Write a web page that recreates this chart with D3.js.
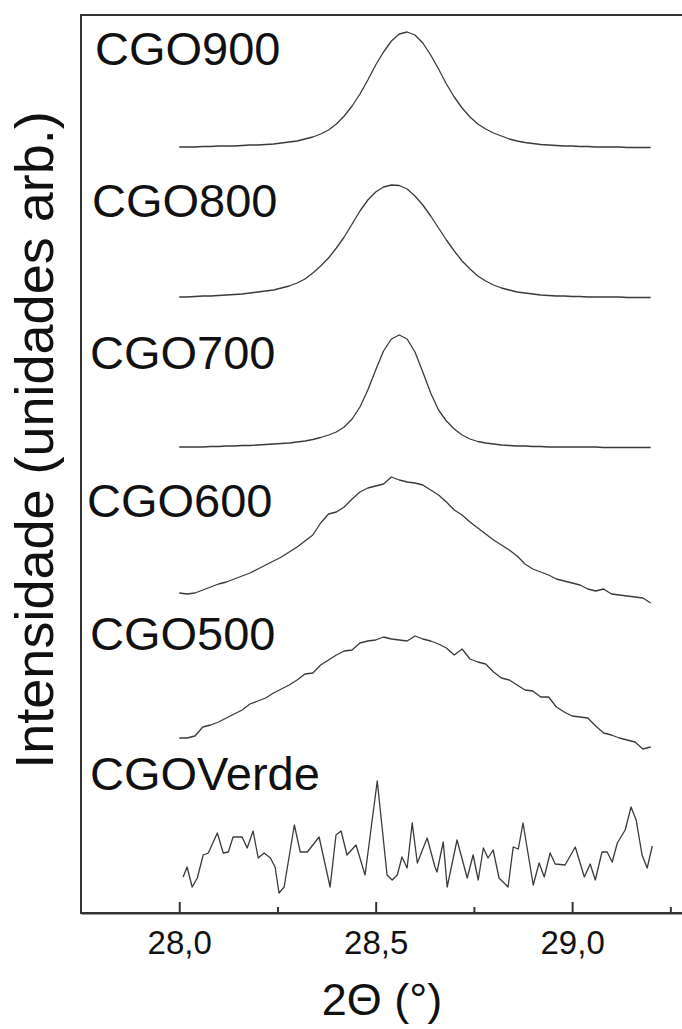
<!DOCTYPE html>
<html>
<head>
<meta charset="utf-8">
<script src="https://cdnjs.cloudflare.com/ajax/libs/d3/7.8.5/d3.min.js"></script>
<style>
body { margin: 0; background: #fff; }
text { font-family: "Liberation Sans", Arial, sans-serif; fill: #111; }
</style>
</head>
<body>
<script>
/*Scan angles (2 theta) for the smoother patterns*/
var angles = [28.00, 28.02, 28.04, 28.06, 28.08, 28.10, 28.12, 28.14, 28.16, 28.18,
	28.20, 28.22, 28.24, 28.26, 28.28, 28.30, 28.32, 28.34, 28.36, 28.38,
	28.40, 28.42, 28.44, 28.46, 28.48, 28.50, 28.52, 28.54, 28.56, 28.58,
	28.60, 28.62, 28.64, 28.66, 28.68, 28.70, 28.72, 28.74, 28.76, 28.78,
	28.80, 28.82, 28.84, 28.86, 28.88, 28.90, 28.92, 28.94, 28.96, 28.98,
	29.00, 29.02, 29.04, 29.06, 29.08, 29.10, 29.12, 29.14, 29.16, 29.18, 29.20]

/*Intensities (arb. units, already stacked)*/
var cgo900 = [766, 766, 766, 766.5, 766.5, 767, 767, 767, 767.5, 768,
	768, 768.5, 769, 770, 771, 772, 774, 776, 779, 783,
	789, 797, 807, 819, 833, 848, 861, 872, 879, 881,
	878, 870, 858, 844, 829, 816, 805, 796, 789, 784,
	780, 777, 774, 772, 770.5, 769.5, 768.5, 768, 767.5, 767,
	767, 766.5, 766.5, 766, 766, 766, 766, 765.5, 765.5, 765.5, 765.5]

var cgo800 = [616, 616, 616.5, 617, 617, 617.5, 618, 618.5, 619, 620,
	621, 622, 623, 625, 627, 630, 634, 640, 647, 655,
	665, 676, 689, 702, 713, 721, 726, 728, 727.5, 724,
	717, 708, 697, 685, 673, 662, 652, 644, 637, 632,
	628, 625, 623, 621, 620, 619, 618, 617.5, 617, 617,
	616.5, 616.5, 616, 616, 616, 616, 616, 615.5, 615.5, 615.5, 615.5]

var cgo700 = [466, 466, 466, 466, 466.5, 466.5, 467, 467, 467.5, 467.5,
	468, 468.5, 469, 469.5, 470, 471, 472, 473.5, 475.5, 478,
	481, 486, 494, 506, 523, 543, 562, 574, 578, 574,
	561, 541, 520, 503, 492, 484, 478, 474, 471.5, 470,
	469, 468, 467.5, 467, 467, 466.5, 466.5, 466, 466, 466,
	466, 466, 466, 466, 465.5, 465.5, 465.5, 465.5, 465.5, 465.5, 465.5]

var cgo600 = [320, 319, 320, 323, 326, 329, 331, 334, 337, 340,
	344, 348, 352, 356, 361, 366, 372, 378, 390, 399,
	401, 406, 414, 421, 425, 427, 429, 436, 433, 431,
	430, 428, 423, 418, 411, 403, 398, 391, 385, 379,
	373, 368, 363, 357, 349, 344, 341, 338, 334, 332,
	330, 328, 324, 322, 324, 319, 318, 317, 316, 315, 310]

var cgo500 = [175, 175, 177, 186, 188, 191, 195, 199, 203, 209,
	212, 215, 220, 224, 228, 233, 239, 240, 248, 253,
	258, 262, 263, 270, 272, 273, 276, 274, 273, 272,
	277, 274, 272, 269, 265, 258, 264, 254, 251, 249,
	241, 235, 233, 228, 223, 222, 216, 216, 206, 201,
	197, 196, 195, 187, 180, 178, 175, 173, 171, 164, 166]

/*The green (uncalcined) sample is noisy, read point by point*/
var verdeAngles = [28.010, 28.020, 28.033, 28.046, 28.061, 28.074, 28.097, 28.112, 28.125, 28.137,
	28.160, 28.173, 28.188, 28.201, 28.216, 28.232, 28.244, 28.254, 28.267, 28.293,
	28.308, 28.326, 28.356, 28.384, 28.399, 28.412, 28.427, 28.450, 28.473, 28.504,
	28.529, 28.542, 28.555, 28.567, 28.580, 28.593, 28.606, 28.631, 28.651, 28.656,
	28.672, 28.682, 28.707, 28.733, 28.748, 28.761, 28.774, 28.786, 28.799, 28.814,
	28.837, 28.850, 28.863, 28.875, 28.901, 28.916, 28.929, 28.944, 28.957, 28.982,
	29.008, 29.031, 29.046, 29.059, 29.076, 29.089, 29.102, 29.115, 29.135, 29.150,
	29.163, 29.178, 29.191, 29.204]

var cgoVerde = [36, 46, 26, 35, 58, 60, 80, 60, 61, 76,
	76, 65, 82, 55, 60, 55, 46, 20, 26, 88,
	61, 61, 76, 26, 78, 82, 58, 68, 38, 132,
	38, 33, 38, 56, 45, 90, 50, 75, 46, 41,
	71, 26, 73, 35, 58, 33, 65, 55, 63, 35,
	26, 66, 64, 90, 28, 50, 36, 60, 49, 48,
	66, 36, 49, 33, 61, 61, 51, 70, 83, 106,
	93, 58, 45, 67]

var sampleNames = ["CGO900", "CGO800", "CGO700", "CGO600", "CGO500", "CGOVerde"]

var majorTicks = [28.0, 28.5, 29.0]
var tickLabels = ["28,0", "28,5", "29,0"]
var minorTicks = [28.25, 28.75, 29.25]

var canvas_width = 682, canvas_height = 1029

var canvas = d3.select("body").append("svg")
			.attr("width", canvas_width)
			.attr("height", canvas_height)
			.attr("class", "canvas")

/*Scales - right side of the frame is cut off in the original*/
var xScale = d3.scaleLinear()
				.domain([27.75, 29.3])
				.range([81, 690])

var yScale = d3.scaleLinear()
				.domain([0, 898])
				.range([913, 15])

/*Frame*/
canvas.append("rect")
	.attr("x", xScale(27.75))
	.attr("y", yScale(898))
	.attr("width", xScale(29.3) - xScale(27.75))
	.attr("height", yScale(0) - yScale(898))
	.attr("fill", "none")
	.attr("stroke", "#333")
	.attr("stroke-width", 2)

/*x axis, ticks point inwards*/
var tickLookup = {}
majorTicks.forEach(function(t, i){ tickLookup[t] = tickLabels[i] })

var xAxis = d3.axisBottom(xScale)
			.tickValues(majorTicks)
			.tickSizeInner(-11)
			.tickSizeOuter(0)
			.tickPadding(18)
			.tickFormat(function(d){ return tickLookup[d] })

var gx = canvas.append("g")
		.attr("transform", "translate(0," + yScale(0) + ")")
		.call(xAxis)

gx.select(".domain").attr("stroke", "#333").attr("stroke-width", 2)
gx.selectAll(".tick line").attr("stroke", "#333").attr("stroke-width", 2)
gx.selectAll(".tick text")
	.attr("font-size", 33)
	.attr("font-family", "Liberation Sans, Arial, sans-serif")
	.attr("fill", "#111")

var minorAxis = d3.axisBottom(xScale)
			.tickValues(minorTicks)
			.tickSizeInner(-6)
			.tickSizeOuter(0)
			.tickFormat("")

var gm = canvas.append("g")
		.attr("transform", "translate(0," + yScale(0) + ")")
		.call(minorAxis)

gm.select(".domain").remove()
gm.selectAll(".tick line").attr("stroke", "#333").attr("stroke-width", 2)

/*Axis titles*/
canvas.append("text")
	.attr("x", 382)
	.attr("y", 1015)
	.attr("text-anchor", "middle")
	.attr("font-size", 45)
	.text("2\u0398 (\u00b0)")

canvas.append("text")
	.attr("transform", "translate(53, 440) rotate(-90)")
	.attr("text-anchor", "middle")
	.attr("font-size", 54)
	.text("Intensidade (unidades arb.)")

/*Patterns*/
var line = d3.line()
			.x(function(d){ return xScale(d[0]) })
			.y(function(d){ return yScale(d[1]) })

function zipSeries(xs, ys){
	return ys.map(function(v, i){ return [xs[i], v] })
}

var series = [
	zipSeries(angles, cgo900),
	zipSeries(angles, cgo800),
	zipSeries(angles, cgo700),
	zipSeries(angles, cgo600),
	zipSeries(angles, cgo500),
	zipSeries(verdeAngles, cgoVerde)
]

canvas.selectAll(".pattern")
	.data(series)
	.enter()
		.append("path")
		.attr("class", "pattern")
		.attr("d", line)
		.attr("fill", "none")
		.attr("stroke", "#3a3a3a")
		.attr("stroke-width", 1.3)
		.attr("stroke-linejoin", "round")

/*Sample labels (left edge, baseline) */
var labelPos = [[95, 65], [92, 217], [90, 369], [87, 517], [90, 650], [90, 790]]

canvas.selectAll(".sampleLabel")
	.data(sampleNames)
	.enter()
		.append("text")
		.attr("class", "sampleLabel")
		.attr("x", function(d, i){ return labelPos[i][0] })
		.attr("y", function(d, i){ return labelPos[i][1] })
		.attr("font-size", 47)
		.text(function(d){ return d })
</script>
</body>
</html>
